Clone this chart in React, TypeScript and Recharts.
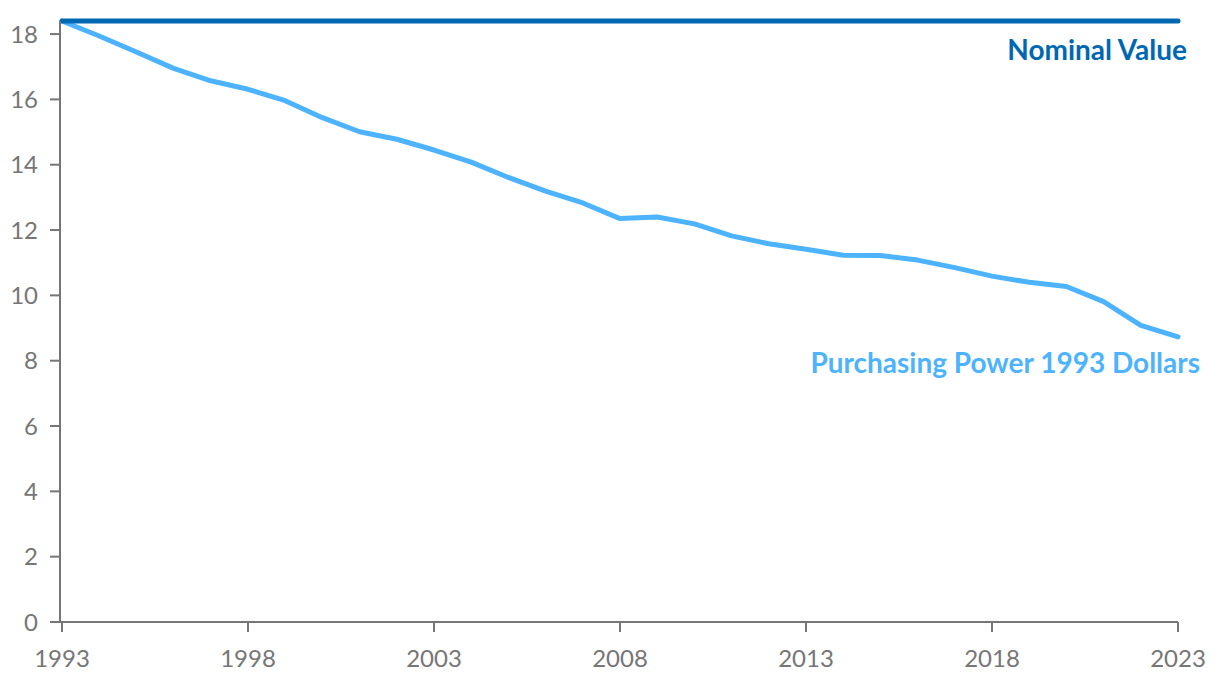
import { LineChart, Line, XAxis, YAxis, LabelList } from 'recharts'

const years = [
  1993, 1994, 1995, 1996, 1997, 1998, 1999, 2000, 2001, 2002, 2003, 2004, 2005, 2006, 2007, 2008,
  2009, 2010, 2011, 2012, 2013, 2014, 2015, 2016, 2017, 2018, 2019, 2020, 2021, 2022, 2023,
]
const nominal = [
  18.4, 18.4, 18.4, 18.4, 18.4, 18.4, 18.4, 18.4, 18.4, 18.4, 18.4, 18.4, 18.4, 18.4, 18.4, 18.4,
  18.4, 18.4, 18.4, 18.4, 18.4, 18.4, 18.4, 18.4, 18.4, 18.4, 18.4, 18.4, 18.4, 18.4, 18.4,
]
const purchasing = [
  18.4, 17.94, 17.45, 16.95, 16.57, 16.31, 15.96, 15.44, 15.01, 14.78, 14.45, 14.08, 13.61, 13.19,
  12.83, 12.35, 12.4, 12.19, 11.82, 11.58, 11.41, 11.23, 11.22, 11.08, 10.85, 10.59, 10.4, 10.27,
  9.81, 9.08, 8.73,
]
const xTicks = [1993, 1998, 2003, 2008, 2013, 2018, 2023]
const yTicks = [0, 2, 4, 6, 8, 10, 12, 14, 16, 18]

const data = years.map((year, i) => ({ year, nominal: nominal[i], purchasing: purchasing[i] }))

const FONT = 'Lato, "Open Sans", sans-serif'
const AXIS = '#767676'
const DARK = '#0068b0'
const LIGHT = '#4db3ff'

function endLabel(text: string, color: string, dx: number, dy: number) {
  return (props: any) => {
    if (props.index !== data.length - 1) return null
    return (
      <text
        x={Number(props.x) + dx}
        y={Number(props.y) + dy}
        textAnchor="end"
        fill={color}
        fontFamily={FONT}
        fontWeight={700}
        fontSize={28}
      >
        {text}
      </text>
    )
  }
}

export default function App() {
  return (
    <div style={{ position: 'absolute', left: 0, top: 0 }}>
      <LineChart
        width={1220}
        height={684}
        data={data}
        margin={{ top: 21, right: 42, bottom: 0, left: 0 }}
      >
        <XAxis
          dataKey="year"
          type="number"
          domain={[1993, 2023]}
          ticks={xTicks}
          padding={{ left: 2, right: 0 }}
          stroke={AXIS}
          strokeWidth={2}
          tickSize={10}
          tickMargin={18}
          height={62}
          tick={{ fill: AXIS, fontSize: 24, fontFamily: FONT }}
          interval={0}
        />
        <YAxis
          type="number"
          domain={[0, 18.4]}
          ticks={yTicks}
          stroke={AXIS}
          strokeWidth={2}
          tickSize={10}
          tickMargin={12}
          width={60}
          tick={{ fill: AXIS, fontSize: 24, fontFamily: FONT }}
          interval={0}
        />
        <Line
          dataKey="purchasing"
          stroke={LIGHT}
          strokeWidth={5}
          dot={false}
          strokeLinecap="round"
          strokeLinejoin="round"
          isAnimationActive={false}
        >
          <LabelList content={endLabel('Purchasing Power 1993 Dollars', LIGHT, 22, 36)} />
        </Line>
        <Line
          dataKey="nominal"
          stroke={DARK}
          strokeWidth={5}
          dot={false}
          strokeLinecap="round"
          isAnimationActive={false}
        >
          <LabelList content={endLabel('Nominal Value', DARK, 9, 39)} />
        </Line>
      </LineChart>
    </div>
  )
}
